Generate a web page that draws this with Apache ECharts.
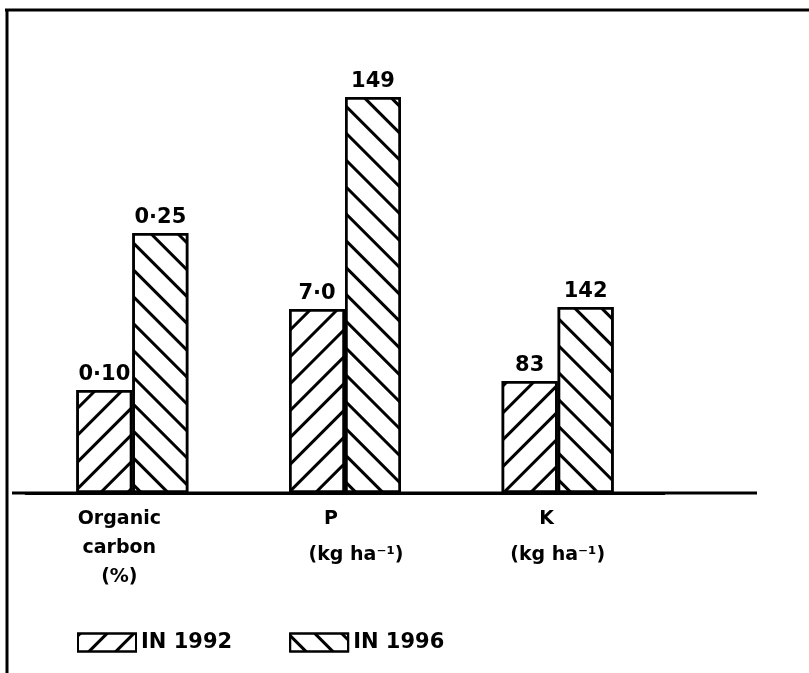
<!DOCTYPE html>
<html>
<head>
<meta charset="utf-8">
<title>Organic carbon, P and K in 1992 and 1996</title>
<script src="https://cdn.jsdelivr.net/npm/echarts@6/dist/echarts.min.js"></script>
<style>
  html, body { margin: 0; padding: 0; background: #fff; }
  #chart { width: 809px; height: 673px; }
</style>
</head>
<body>
<div id="chart"></div>
<script>
// groups along the base line
var categories = ['Organic carbon (%)', 'P (kg ha⁻¹)', 'K (kg ha⁻¹)'];
// drawn bar heights (each group has its own unit, so the picture is not to one scale)
var height1992 = [103, 184, 112];
var height1996 = [260, 396, 186];
// values written above the bars
var label1992 = ['0·10', '7·0', '83'];
var label1996 = ['0·25', '149', '142'];
var seriesNames = ['IN 1992', 'IN 1996'];

var font = '"DejaVu Sans", sans-serif';

function hatch(rot) {
  return {
    symbol: 'rect',
    symbolSize: 1,
    color: '#000',
    dashArrayX: [1, 0],
    dashArrayY: [3, 16],
    rotation: rot
  };
}

function barSeries(name, heights, labels, rot) {
  return {
    name: name,
    type: 'bar',
    barWidth: 56,
    barGap: '0%',
    data: heights,
    itemStyle: {
      color: '#fff',
      borderColor: '#000',
      borderWidth: 2.5,
      decal: hatch(rot)
    },
    label: {
      show: true,
      position: 'top',
      distance: 5,
      color: '#000',
      fontFamily: font,
      fontWeight: 'bold',
      fontSize: 21,
      formatter: function (p) { return labels[p.dataIndex]; }
    }
  };
}

var txt = { fontFamily: font, fontWeight: 'bold', fontSize: 19, color: '#000' };

var myChart = echarts.init(document.getElementById('chart')),
  option = {
    backgroundColor: '#fff',
    animation: false,
    grid: { left: 26, right: 145, top: 93, bottom: 180 },
    legend: {
      left: 77,
      top: 632,
      padding: 0,
      itemWidth: 58,
      itemHeight: 18,
      itemGap: 57,
      icon: 'rect',
      textStyle: { fontFamily: font, fontWeight: 'bold', fontSize: 21, color: '#000' },
      data: seriesNames
    },
    xAxis: {
      type: 'category',
      data: categories,
      axisLine: { lineStyle: { color: '#000', width: 3 } },
      axisTick: { show: false },
      axisLabel: {
        margin: 12,
        color: '#000',
        formatter: function (v, i) {
          if (i === 0) return '{oc|Organic}\n{oc|carbon}\n{oc|(%)}';
          if (i === 1) return '{p|P}\n{pu|(kg ha⁻¹)}';
          return '{k|K}\n{ku|(kg ha⁻¹)}';
        },
        rich: {
          oc: Object.assign({ lineHeight: 29, padding: [0, 26, 0, 0] }, txt),
          p: Object.assign({ lineHeight: 29, padding: [0, 28, 0, 0] }, txt),
          pu: Object.assign({ lineHeight: 42, padding: [0, 0, 0, 22] }, txt),
          k: Object.assign({ lineHeight: 29, padding: [0, 22, 0, 0] }, txt),
          ku: Object.assign({ lineHeight: 42 }, txt)
        }
      }
    },
    yAxis: {
      type: 'value',
      min: 0,
      max: 400,
      show: false,
      splitLine: { show: false }
    },
    series: [
      barSeries(seriesNames[0], height1992, label1992, -Math.PI / 4),
      barSeries(seriesNames[1], height1996, label1996, Math.PI / 4)
    ],
    graphic: [
      { type: 'line', shape: { x1: 5, y1: 10, x2: 809, y2: 10 }, style: { stroke: '#000', lineWidth: 3 } },
      { type: 'line', shape: { x1: 7, y1: 10, x2: 7, y2: 673 }, style: { stroke: '#000', lineWidth: 3 } },
      { type: 'line', shape: { x1: 12, y1: 493, x2: 757, y2: 493 }, style: { stroke: '#000', lineWidth: 3 } }
    ]
  };
myChart.setOption(option);
</script>
</body>
</html>
